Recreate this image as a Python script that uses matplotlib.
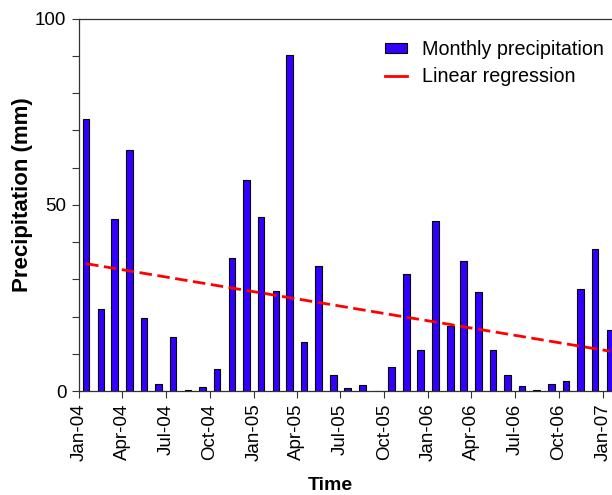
import numpy as np
import pandas as pd
import matplotlib
matplotlib.use("Agg")
import matplotlib.pyplot as plt
import matplotlib.dates as mdates
from matplotlib.lines import Line2D

plt.rcParams['font.family'] = ['Liberation Sans', 'DejaVu Sans']

# monthly precipitation, Jan-2004 .. Jan-2007 (mm)
months = pd.date_range("2004-01-01", "2007-01-01", freq="MS")
precip = [73.1, 22.1, 46.2, 64.8, 19.6, 1.9, 14.6, 0.4, 1.1, 5.9, 35.8, 56.6,
          46.7, 26.9, 90.3, 13.2, 33.5, 4.3, 0.8, 1.5, 0.0, 6.4, 31.5, 10.9,
          45.7, 17.4, 34.9, 26.6, 11.1, 4.2, 1.3, 0.4, 2.0, 2.7, 27.5, 38.1,
          16.3]

# regression line end points
reg_months = [months[0], months[-1]]
reg_values = [34.2, 10.7]

fig = plt.figure(figsize=(6.12, 4.95), dpi=100)
ax = fig.add_axes([0.129, 0.210, 0.902, 0.7525])

mid = months + pd.Timedelta(days=15)
bars = ax.bar(mid, precip, width=14, color='#3300ff', edgecolor='black',
              linewidth=0.8, zorder=2)

reg_mid = [m + pd.Timedelta(days=15) for m in reg_months]
ax.plot(reg_mid, reg_values, color='#ff0000', lw=2, dashes=(4.5, 2), zorder=3)

ax.set_xlim(pd.Timestamp("2004-01-01"), pd.Timestamp("2007-03-01"))
ax.set_ylim(0, 100)

ax.xaxis.set_major_locator(mdates.MonthLocator(bymonth=[1, 4, 7, 10]))
ax.xaxis.set_major_formatter(mdates.DateFormatter('%b-%y'))
ax.set_yticks([0, 50, 100])
ax.set_yticks(np.arange(0, 101, 10), minor=True)

ax.tick_params(axis='both', which='both', direction='out', length=5,
               width=0.8, labelsize=13.5, color='#333333', pad=4)
ax.tick_params(axis='x', labelrotation=90)

ax.spines['right'].set_visible(False)
for s in ['left', 'top', 'bottom']:
    ax.spines[s].set_linewidth(0.9)
    ax.spines[s].set_color('#333333')

ax.set_ylabel('Precipitation (mm)', fontsize=16, fontweight='bold')
ax.set_xlabel('Time', fontsize=14, fontweight='bold')
ax.yaxis.set_label_coords(-0.083, 0.527)
ax.xaxis.set_label_coords(0.455, -0.232)

handles = [bars, Line2D([], [], color='#ff0000', lw=2)]
labels = ['Monthly precipitation', 'Linear regression']
ax.legend(handles, labels, loc='upper left', bbox_to_anchor=(0.629, 0.919),
          bbox_transform=fig.transFigure, frameon=False, fontsize=14.2,
          handlelength=1.12, handleheight=0.4, handletextpad=0.76,
          labelspacing=0.42, borderaxespad=0, borderpad=0)

fig.savefig('out.png', dpi=100)
